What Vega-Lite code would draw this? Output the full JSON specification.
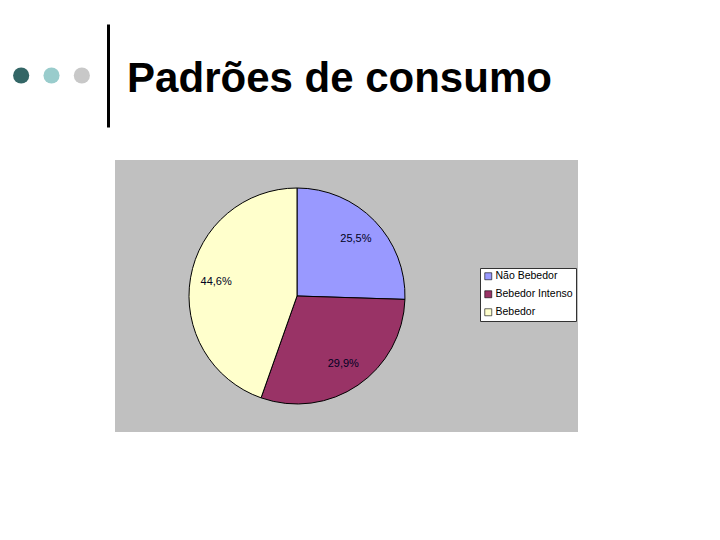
{
  "$schema": "https://vega.github.io/schema/vega-lite/v6.json",
  "padding": {"left": 6, "top": 24, "right": 0, "bottom": 0},
  "background": "white",
  "config": {"view": {"stroke": null}, "font": "Liberation Sans"},
  "datasets": {
    "pontos": [{"ponto": "a"}, {"ponto": "b"}, {"ponto": "c"}],
    "titulo": [{"texto": "Padrões de consumo"}],
    "consumo": [
      {"grupo": "Não Bebedor", "percentual": 25.5, "rotulo": "25,5%", "ordem": 1},
      {"grupo": "Bebedor Intenso", "percentual": 29.9, "rotulo": "29,9%", "ordem": 2},
      {"grupo": "Bebedor", "percentual": 44.6, "rotulo": "44,6%", "ordem": 3}
    ]
  },
  "bounds": "flush",
  "spacing": 18,
  "resolve": {"scale": {"color": "independent"}},
  "hconcat": [
    {
      "width": 91,
      "height": 103,
      "data": {"name": "pontos"},
      "mark": {"type": "circle", "size": 260, "opacity": 1},
      "encoding": {
        "x": {"field": "ponto", "type": "nominal", "scale": {"type": "point", "padding": 0.5}, "axis": null},
        "color": {
          "field": "ponto",
          "type": "nominal",
          "scale": {"range": ["#336666", "#99cccc", "#c8c8c8"]},
          "legend": null
        }
      }
    },
    {
      "bounds": "flush",
      "spacing": 33,
      "resolve": {"scale": {"color": "independent"}},
      "vconcat": [
        {
          "width": 449,
          "height": 103,
          "data": {"name": "titulo"},
          "mark": {
            "type": "text",
            "font": "Liberation Sans",
            "fontSize": 42,
            "fontWeight": "bold",
            "color": "black",
            "align": "center",
            "baseline": "alphabetic",
            "dy": 16.5
          },
          "encoding": {
            "y": {
              "field": "texto",
              "type": "nominal",
              "axis": {
                "domain": true,
                "domainColor": "black",
                "domainWidth": 3,
                "ticks": false,
                "labels": false,
                "title": null,
                "offset": 7
              }
            },
            "text": {"field": "texto"}
          }
        },
        {
          "bounds": "flush",
          "spacing": 0,
          "resolve": {"scale": {"color": "independent"}},
          "hconcat": [
            {
              "width": 364,
              "height": 272,
              "view": {"fill": "#c0c0c0", "stroke": null},
              "data": {"name": "consumo"},
              "encoding": {
                "theta": {"field": "percentual", "type": "quantitative", "stack": true},
                "order": {"field": "ordem", "type": "quantitative"}
              },
              "layer": [
                {
                  "mark": {"type": "arc", "outerRadius": 108, "stroke": "black", "strokeWidth": 1},
                  "encoding": {
                    "color": {
                      "field": "grupo",
                      "type": "nominal",
                      "scale": {
                        "domain": ["Não Bebedor", "Bebedor Intenso", "Bebedor"],
                        "range": ["#9999ff", "#993366", "#ffffcc"]
                      },
                      "legend": null
                    }
                  }
                },
                {
                  "mark": {"type": "text", "radius": 82, "fontSize": 11, "color": "#000022"},
                  "encoding": {"text": {"field": "rotulo"}}
                }
              ]
            },
            {
              "width": 99,
              "height": 272,
              "view": {"fill": "#c0c0c0", "stroke": null},
              "data": {"name": "consumo"},
              "mark": {"type": "square", "opacity": 0},
              "encoding": {
                "color": {
                  "field": "grupo",
                  "type": "nominal",
                  "scale": {
                    "domain": ["Não Bebedor", "Bebedor Intenso", "Bebedor"],
                    "range": ["#9999ff", "#993366", "#ffffcc"]
                  },
                  "legend": {
                    "orient": "none",
                    "legendX": 1,
                    "legendY": 108,
                    "title": null,
                    "symbolType": "square",
                    "symbolSize": 49,
                    "symbolOpacity": 1,
                    "symbolStrokeColor": "black",
                    "symbolStrokeWidth": 0.6,
                    "labelFont": "Liberation Sans",
                    "labelFontSize": 10.5,
                    "labelColor": "black",
                    "labelOffset": 2,
                    "fillColor": "white",
                    "strokeColor": "#333333",
                    "padding": 3,
                    "rowPadding": 7
                  }
                }
              }
            }
          ]
        }
      ]
    }
  ]
}
